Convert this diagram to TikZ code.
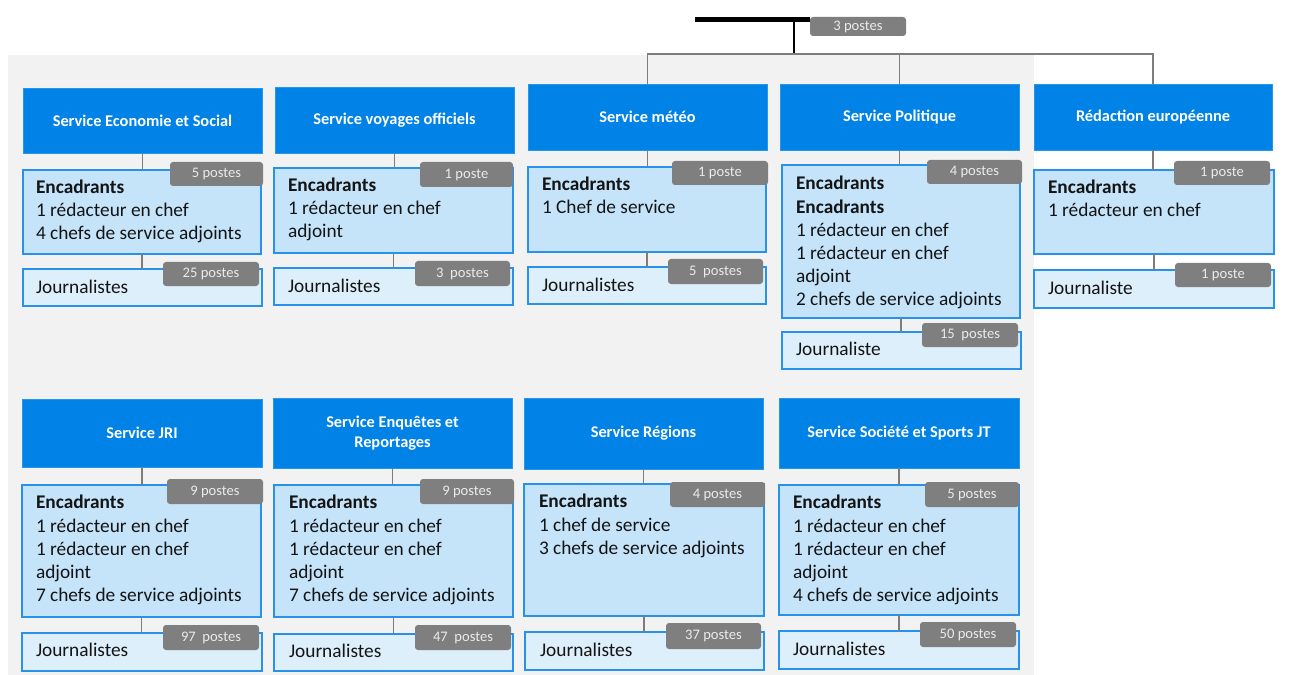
\documentclass[tikz,border=0pt]{standalone}
\usepackage{fontspec}
\setmainfont{Carlito}
\definecolor{hdrblue}{RGB}{0,130,230}
\definecolor{edgeblue}{RGB}{40,145,235}
\definecolor{encfill}{RGB}{197,228,250}
\definecolor{jourfill}{RGB}{222,239,252}
\definecolor{badgegray}{RGB}{127,127,127}
\definecolor{panelgray}{RGB}{242,242,242}
\definecolor{linkgray}{RGB}{125,125,125}
\definecolor{bodyink}{RGB}{20,20,20}

% box placed by its two corners, in pixel-like units
\newcommand\orgbox[7]{%
  \node[#2, anchor=north west, inner sep=0pt, outer sep=0pt,
        minimum width={(#5-#3)*0.02cm}, minimum height={(#6-#4)*0.02cm}]
        (#1) at (#3,#4) {#7};}
% fixed height for the first line of a text block (9pt above its baseline)
\newcommand\lineone{\rule{0pt}{9pt}}

\tikzset{
  x=0.02cm, y=-0.02cm,
  hdr/.style={fill=hdrblue, draw=hdrblue!85!white, line width=0.4pt, text=white,
              align=center, font=\fontsize{9.3}{11.4}\selectfont\bfseries},
  encbox/.style={fill=encfill, draw=edgeblue, line width=1pt},
  jourbox/.style={fill=jourfill, draw=edgeblue, line width=1pt},
  badge/.style={fill=badgegray, draw=none, rounded corners=1.7pt, text=white!92!black,
                font=\fontsize{8.3}{10}\selectfont},
  body/.style={inner sep=0pt, outer sep=0pt, align=left, text=bodyink, anchor=north west,
               font=\fontsize{11}{13.2}\selectfont},
  link/.style={draw=linkgray, line width=0.7pt},
}

\begin{document}
\begin{tikzpicture}
\useasboundingbox (0,0) rectangle (1293,675);

% grey panel behind the services
\fill[panelgray] (8,55) rectangle (1034,675);

% top of the chart
\orgbox{topbar}{fill=black}{695}{17}{810}{22}{}
\coordinate (bus) at (794,54);

% ---- first row: headers
\orgbox{h1}{hdr}{23}{88}{262}{153}{Service Economie et Social}
\orgbox{h2}{hdr}{275}{87}{514}{153}{Service voyages officiels}
\orgbox{h3}{hdr}{528}{84}{767}{150}{Service météo}
\orgbox{h4}{hdr}{780}{84}{1019}{150}{Service Politique}
\orgbox{h5}{hdr}{1034}{84}{1272}{150}{Rédaction européenne}

% ---- second row: headers
\orgbox{h6}{hdr}{22}{399}{262}{467}{Service JRI}
\orgbox{h7}{hdr}{273}{398}{512}{468}{Service Enquêtes et\\Reportages}
\orgbox{h8}{hdr}{524}{398}{763}{469}{Service Régions}
\orgbox{h9}{hdr}{779}{398}{1019}{468}{Service Société et Sports JT}

% connectors from the top
\draw[line width=0.8pt, black] (topbar.south -| bus) -- (bus);
\draw[link] (h3.north) -- (h3.north |- bus) -- (h5.north |- bus) -- (h5.north);
\draw[link] (h4.north) -- (h4.north |- bus);

% ---- managers and journalists boxes
\orgbox{e1}{encbox}{23}{170}{261}{254}{}
\orgbox{e2}{encbox}{274}{168}{513}{253}{}
\orgbox{e3}{encbox}{528}{167}{766}{252}{}
\orgbox{e4}{encbox}{782}{165}{1020}{318}{}
\orgbox{e5}{encbox}{1034}{170}{1274}{254}{}
\orgbox{j1}{jourbox}{23}{269}{262}{306}{}
\orgbox{j2}{jourbox}{274}{268}{513}{305}{}
\orgbox{j3}{jourbox}{528}{267}{766}{304}{}
\orgbox{j4}{jourbox}{782}{332}{1021}{369}{}
\orgbox{j5}{jourbox}{1034}{270}{1274}{308}{}

\orgbox{e6}{encbox}{22}{485}{261}{617}{}
\orgbox{e7}{encbox}{274}{485}{513}{617}{}
\orgbox{e8}{encbox}{524}{484}{764}{616}{}
\orgbox{e9}{encbox}{779}{485}{1019}{615}{}
\orgbox{j6}{jourbox}{22}{633}{262}{671}{}
\orgbox{j7}{jourbox}{274}{634}{513}{671}{}
\orgbox{j8}{jourbox}{525}{632}{764}{670}{}
\orgbox{j9}{jourbox}{779}{631}{1019}{669}{}

% vertical links header -> managers -> journalists
\foreach \k in {1,...,9}{
  \draw[link] (h\k.south) -- (h\k.south |- e\k.north);
  \draw[link] (e\k.south) -- (e\k.south |- j\k.north);
}

% ---- post counts
\orgbox{btop}{badge}{810}{17}{906}{36}{3 postes}
\orgbox{be1}{badge}{170}{162}{263}{186}{5 postes}
\orgbox{be2}{badge}{420}{162}{513}{187}{1 poste}
\orgbox{be3}{badge}{672}{161}{768}{185}{1 poste}
\orgbox{be4}{badge}{927}{160}{1022}{184}{4 postes}
\orgbox{be5}{badge}{1174}{161}{1270}{185}{1 poste}
\orgbox{bj1}{badge}{163}{262}{259}{286}{25 postes}
\orgbox{bj2}{badge}{415}{261}{510}{286}{3~~postes}
\orgbox{bj3}{badge}{668}{259}{763}{284}{5~~postes}
\orgbox{bj4}{badge}{922}{323}{1018}{347}{15~~postes}
\orgbox{bj5}{badge}{1175}{263}{1271}{287}{1 poste}
\orgbox{be6}{badge}{167}{479}{263}{504}{9 postes}
\orgbox{be7}{badge}{420}{479}{514}{504}{9 postes}
\orgbox{be8}{badge}{670}{482}{765}{507}{4 postes}
\orgbox{be9}{badge}{925}{482}{1019}{507}{5 postes}
\orgbox{bj6}{badge}{163}{625}{259}{650}{97~~postes}
\orgbox{bj7}{badge}{415}{625}{511}{650}{47~~postes}
\orgbox{bj8}{badge}{666}{623}{761}{649}{37 postes}
\orgbox{bj9}{badge}{920}{622}{1016}{647}{50 postes}

% ---- texts inside the boxes (first baseline about 23.5 units below the top)
\node[body] (e1t) at ([shift={(13,7.6)}]e1.north west)
  {\lineone\textbf{Encadrants}\\1 rédacteur en chef\\4 chefs de service adjoints};
\node[body] (e2t) at ([shift={(14,7.6)}]e2.north west)
  {\lineone\textbf{Encadrants}\\1 rédacteur en chef\\adjoint};
\node[body] (e3t) at ([shift={(14,7.6)}]e3.north west)
  {\lineone\textbf{Encadrants}\\1 Chef de service};
\node[body] (e4t) at ([shift={(14,9)}]e4.north west)
  {\lineone\textbf{Encadrants}\\\textbf{Encadrants}\\1 rédacteur en chef\\1 rédacteur en chef\\adjoint\\2 chefs de service adjoints};
\node[body] (e5t) at ([shift={(14,7.6)}]e5.north west)
  {\lineone\textbf{Encadrants}\\1 rédacteur en chef};
\node[body] (e6t) at ([shift={(14,8)}]e6.north west)
  {\lineone\textbf{Encadrants}\\1 rédacteur en chef\\1 rédacteur en chef\\adjoint\\7 chefs de service adjoints};
\node[body] (e7t) at ([shift={(15,8)}]e7.north west)
  {\lineone\textbf{Encadrants}\\1 rédacteur en chef\\1 rédacteur en chef\\adjoint\\7 chefs de service adjoints};
\node[body] (e8t) at ([shift={(15,8)}]e8.north west)
  {\lineone\textbf{Encadrants}\\1 chef de service\\3 chefs de service adjoints};
\node[body] (e9t) at ([shift={(14,8)}]e9.north west)
  {\lineone\textbf{Encadrants}\\1 rédacteur en chef\\1 rédacteur en chef\\adjoint\\4 chefs de service adjoints};

\node[body] (j1t) at ([shift={(13,9.1)}]j1.north west) {\lineone Journalistes};
\node[body] (j2t) at ([shift={(14,9.1)}]j2.north west) {\lineone Journalistes};
\node[body] (j3t) at ([shift={(14,9.1)}]j3.north west) {\lineone Journalistes};
\node[body] (j4t) at ([shift={(14,8.1)}]j4.north west) {\lineone Journaliste};
\node[body] (j5t) at ([shift={(14,9.1)}]j5.north west) {\lineone Journaliste};
\node[body] (j6t) at ([shift={(14,8.1)}]j6.north west) {\lineone Journalistes};
\node[body] (j7t) at ([shift={(15,8.1)}]j7.north west) {\lineone Journalistes};
\node[body] (j8t) at ([shift={(15,9.1)}]j8.north west) {\lineone Journalistes};
\node[body] (j9t) at ([shift={(14,9.1)}]j9.north west) {\lineone Journalistes};
\end{tikzpicture}
\end{document}
